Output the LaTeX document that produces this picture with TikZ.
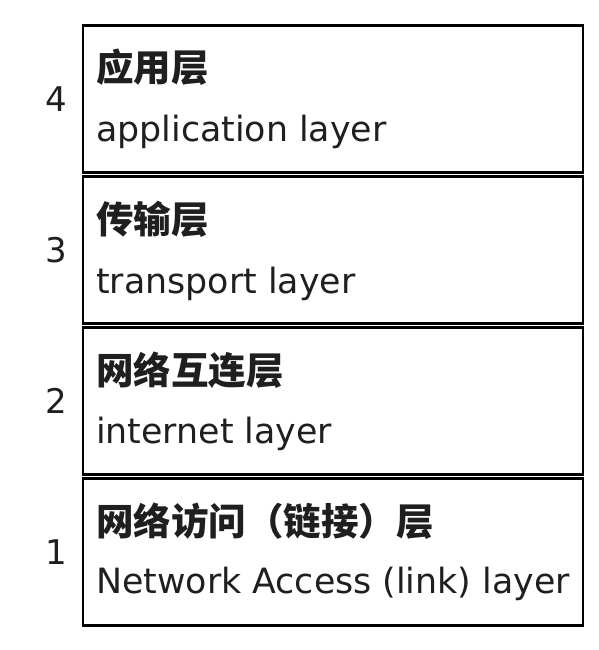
\documentclass[tikz,border=0pt]{standalone}
\usepackage{fontspec}
\setmainfont{DejaVu Sans}
\newfontfamily\cjk{Noto Sans CJK SC}
\usetikzlibrary{positioning}
\definecolor{inkgray}{rgb}{0.12,0.12,0.12}

\begin{document}
\begin{tikzpicture}[x=1pt,y=-1pt,
	layerbox/.style={draw=black,line width=2.5pt,minimum width=500pt,minimum height=147pt,inner sep=0pt,outer sep=0pt},
	zh/.style={anchor=base west,inner sep=0pt,inkgray,font=\cjk\bfseries\fontsize{37.5}{40}\selectfont},
	en/.style={anchor=base west,inner sep=0pt,inkgray,font=\fontsize{34.8}{40}\selectfont},
	num/.style={inner sep=0pt,inkgray,font=\fontsize{34}{40}\selectfont}]
	
	\useasboundingbox (0,0) rectangle (598,650);
	
	\node [layerbox] (L4) at (333,99) {};
	\node [layerbox] (L3) at (333,250) {};
	\node [layerbox] (L2) at (333,401) {};
	\node [layerbox] (L1) at (333,552) {};
	
	\node [num,left=16pt of L4] (N4) {4};
	\node [num,left=16pt of L3] (N3) {3};
	\node [num,left=16pt of L2] (N2) {2};
	\node [num,left=16pt of L1] (N1) {1};
	
	\node at (96,82) [zh] (Z4) {应用层};
	\node at (96,142) [en] (E4) {application layer};
	\node at (96,233) [zh] (Z3) {传输层};
	\node at (96,293) [en] (E3) {transport layer};
	\node at (96,384) [zh] (Z2) {网络互连层};
	\node at (96,443) [en] (E2) {internet layer};
	\node at (96,535) [zh] (Z1) {网络访问（链接）层};
	\node at (96,593) [en] (E1) {Network Access (link) layer};
\end{tikzpicture}
\end{document}
